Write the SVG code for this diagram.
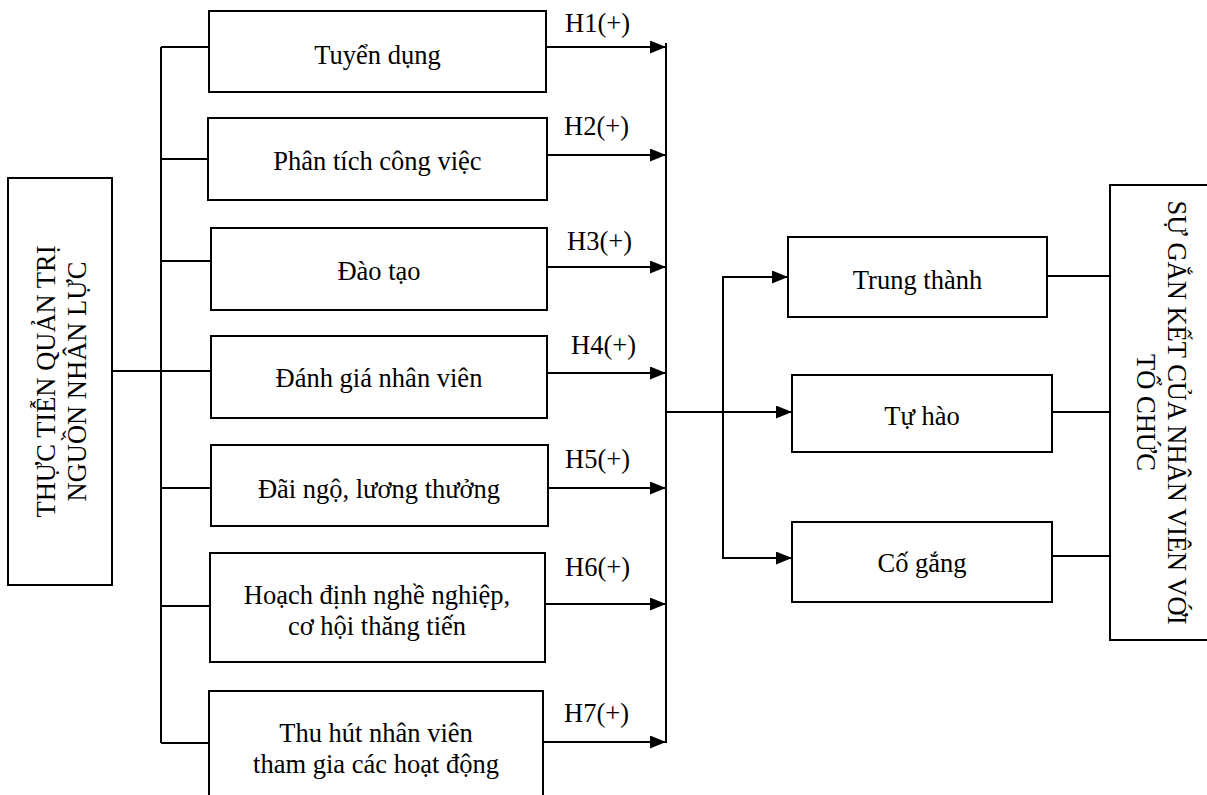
<svg xmlns="http://www.w3.org/2000/svg" width="1207" height="795" viewBox="0 0 1207 795">
<style>
  text { font-family: "Liberation Serif", "Times New Roman", serif; font-size: 26.5px; fill: #000; }
  .c { text-anchor: middle; }
  .box { fill: #fff; stroke: #000; stroke-width: 2; }
  .ln { fill: none; stroke: #000; stroke-width: 2; }
</style>
<defs>
  <marker id="arr" viewBox="0 0 16 13" refX="16" refY="6.5" markerWidth="16" markerHeight="13" markerUnits="userSpaceOnUse" orient="auto">
    <path d="M0,0 L16,6.5 L0,13 Z" fill="#000"/>
  </marker>
</defs>
<rect width="1207" height="795" fill="#fff"/>

<g id="connectors">
  <!-- left bus -->
  <line class="ln" x1="161" y1="47" x2="161" y2="743"/>
  <line class="ln" x1="161" y1="47" x2="209" y2="47"/>
  <line class="ln" x1="161" y1="159" x2="208" y2="159"/>
  <line class="ln" x1="161" y1="261" x2="211" y2="261"/>
  <line class="ln" x1="112" y1="371" x2="211" y2="371"/>
  <line class="ln" x1="161" y1="488" x2="211" y2="488"/>
  <line class="ln" x1="161" y1="606" x2="210" y2="606"/>
  <line class="ln" x1="161" y1="743" x2="209" y2="743"/>
  <!-- right bus -->
  <line class="ln" x1="666" y1="43" x2="666" y2="743"/>
  <line class="ln" x1="546" y1="47" x2="666" y2="47" marker-end="url(#arr)"/>
  <line class="ln" x1="547" y1="155" x2="666" y2="155" marker-end="url(#arr)"/>
  <line class="ln" x1="547" y1="267" x2="666" y2="267" marker-end="url(#arr)"/>
  <line class="ln" x1="547" y1="373" x2="666" y2="373" marker-end="url(#arr)"/>
  <line class="ln" x1="548" y1="488" x2="666" y2="488" marker-end="url(#arr)"/>
  <line class="ln" x1="545" y1="604" x2="666" y2="604" marker-end="url(#arr)"/>
  <line class="ln" x1="543" y1="742" x2="666" y2="742" marker-end="url(#arr)"/>
  <!-- labels -->
  <text x="565" y="32">H1(+)</text>
  <text x="564" y="135">H2(+)</text>
  <text x="567" y="250">H3(+)</text>
  <text x="571" y="354">H4(+)</text>
  <text x="565" y="468">H5(+)</text>
  <text x="565" y="576">H6(+)</text>
  <text x="564" y="722">H7(+)</text>
  <!-- to outcomes -->
  <line class="ln" x1="666" y1="412" x2="792" y2="412" marker-end="url(#arr)"/>
  <polyline class="ln" points="788,277 723,277 723,558 792,558" marker-end="url(#arr)"/>
  <line class="ln" x1="723" y1="277" x2="788" y2="277" marker-end="url(#arr)"/>
  <line class="ln" x1="1047" y1="276" x2="1110" y2="276"/>
  <line class="ln" x1="1052" y1="412" x2="1110" y2="412"/>
  <line class="ln" x1="1052" y1="556" x2="1110" y2="556"/>
</g>

<g id="n-thuctien">
  <rect class="box" x="8" y="178" width="104" height="407"/>
  <text class="c" transform="translate(55,381.5) rotate(-90)">THỰC TIỄN QUẢN TRỊ</text>
  <text class="c" transform="translate(86,381.5) rotate(-90)">NGUỒN NHÂN LỰC</text>
</g>

<g id="n-tuyendung">
  <rect class="box" x="209" y="11" width="337" height="81"/>
  <text class="c" x="377.5" y="64">Tuyển dụng</text>
</g>
<g id="n-phantich">
  <rect class="box" x="208" y="118" width="339" height="82"/>
  <text class="c" x="377.5" y="170">Phân tích công việc</text>
</g>
<g id="n-daotao">
  <rect class="box" x="211" y="228" width="336" height="82"/>
  <text class="c" x="379" y="280">Đào tạo</text>
</g>
<g id="n-danhgia">
  <rect class="box" x="211" y="336" width="336" height="82"/>
  <text class="c" x="379" y="387">Đánh giá nhân viên</text>
</g>
<g id="n-daingo">
  <rect class="box" x="211" y="445" width="337" height="81"/>
  <text class="c" x="379" y="498">Đãi ngộ, lương thưởng</text>
</g>
<g id="n-hoachdinh">
  <rect class="box" x="210" y="553" width="335" height="109"/>
  <text class="c" x="377" y="604">Hoạch định nghề nghiệp,</text>
  <text class="c" x="377" y="635">cơ hội thăng tiến</text>
</g>
<g id="n-thuhut">
  <rect class="box" x="209" y="691" width="334" height="120"/>
  <text class="c" x="376" y="742">Thu hút nhân viên</text>
  <text class="c" x="376" y="773">tham gia các hoạt động</text>
</g>

<g id="n-trungthanh">
  <rect class="box" x="788" y="237" width="259" height="80"/>
  <text class="c" x="917.5" y="289">Trung thành</text>
</g>
<g id="n-tuhao">
  <rect class="box" x="792" y="375" width="260" height="77"/>
  <text class="c" x="922" y="425">Tự hào</text>
</g>
<g id="n-cogang">
  <rect class="box" x="792" y="522" width="260" height="80"/>
  <text class="c" x="922" y="572">Cố gắng</text>
</g>

<g id="n-sugangket">
  <rect class="box" x="1110" y="185" width="110" height="455"/>
  <text class="c" transform="translate(1168,412.5) rotate(90)">SỰ GẮN KẾT CỦA NHÂN VIÊN VỚI</text>
  <text class="c" transform="translate(1137,412.5) rotate(90)">TỔ CHỨC</text>
</g>
</svg>
